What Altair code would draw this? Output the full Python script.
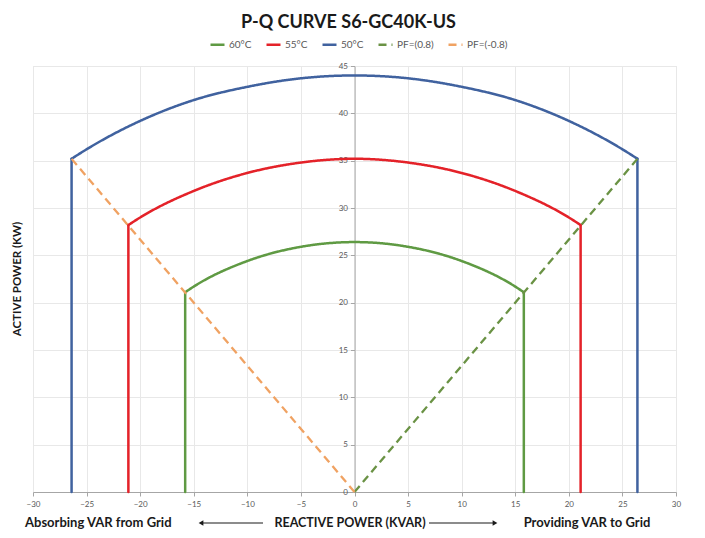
import altair as alt
import pandas as pd

# ---- data ----
series_names = ["60°C", "55°C", "50°C", "PF=(0.8)", "PF=(-0.8)"]
series_colors = ["#5f9a43", "#e42229", "#40629f", "#6a9244", "#f0a262"]

# arcs (reactive power x, active power y)
blue_x = [-26.4, -25, -20, -15, -10, -5, 0, 5, 10, 15, 20, 25, 26.4]
blue_y = [35.2, 36.2, 39.2, 41.4, 42.8, 43.7, 44.0, 43.7, 42.8, 41.4, 39.2, 36.2, 35.2]
red_x = [-21.1, -20, -15, -10, -5, 0, 5, 10, 15, 20, 21.1]
red_y = [28.2, 29.0, 31.8, 33.7, 34.8, 35.2, 34.8, 33.7, 31.8, 29.0, 28.2]
green_x = [-15.8, -15, -10, -5, 0, 5, 10, 15, 15.8]
green_y = [21.1, 21.7, 24.4, 25.9, 26.4, 25.9, 24.4, 21.7, 21.1]

# vertical limits (x position, top y)
blue_edge = [26.4, 35.2]
red_edge = [21.1, 28.2]
green_edge = [15.8, 21.1]

# power factor lines: end points from origin
pf_pos = [26.4, 35.2]
pf_neg = [-26.4, 35.2]

x_ticks = [-30, -25, -20, -15, -10, -5, 0, 5, 10, 15, 20, 25, 30]
y_ticks = [0, 5, 10, 15, 20, 25, 30, 35, 40, 45]

# ---- build table ----
rows = []
def add_arc(name, xs, ys):
    for i, (x, y) in enumerate(zip(xs, ys)):
        rows.append({"series": name, "seg": name + "-arc", "x": x, "y": y, "o": i})

def add_edges(name, edge):
    ex, ey = edge
    for side, sx in (("L", -ex), ("R", ex)):
        rows.append({"series": name, "seg": name + side, "x": sx, "y": 0, "o": 0})
        rows.append({"series": name, "seg": name + side, "x": sx, "y": ey, "o": 1})

add_arc("50°C", blue_x, blue_y)
add_arc("55°C", red_x, red_y)
add_arc("60°C", green_x, green_y)
add_edges("50°C", blue_edge)
add_edges("55°C", red_edge)
add_edges("60°C", green_edge)
solid = pd.DataFrame(rows)

dashed = pd.DataFrame([
    {"series": "PF=(0.8)", "seg": "pfp", "x": 0, "y": 0, "o": 0},
    {"series": "PF=(0.8)", "seg": "pfp", "x": pf_pos[0], "y": pf_pos[1], "o": 1},
    {"series": "PF=(-0.8)", "seg": "pfn", "x": 0, "y": 0, "o": 0},
    {"series": "PF=(-0.8)", "seg": "pfn", "x": pf_neg[0], "y": pf_neg[1], "o": 1},
])

W, H = 643, 426
FONT = "Lato"
GRAY = "#595959"

legend = alt.Legend(
    title=None, orient="none", legendX=176, legendY=-30, direction="horizontal",
    symbolType="stroke", symbolSize=196, symbolStrokeWidth=2.5,
    labelFont=FONT, labelFontSize=10, labelColor=GRAY, columnPadding=9,
    symbolOffset=0, labelOffset=3,
)

xenc = alt.X("x:Q", scale=alt.Scale(domain=[-30, 30], nice=False),
             axis=alt.Axis(values=x_ticks, title=None, grid=True, gridColor="#e8e8e8",
                           domainColor="#a6a6a6", tickColor="#a6a6a6", tickSize=4,
                           labelFont=FONT, labelFontSize=8, labelColor=GRAY, labelPadding=4,
                           labelFlush=False))
yenc = alt.Y("y:Q", scale=alt.Scale(domain=[0, 45], nice=False),
             axis=alt.Axis(values=y_ticks, title=None, grid=True, gridColor="#e8e8e8",
                           offset=-W / 2, domainColor="#a6a6a6", tickColor="#a6a6a6",
                           tickSize=4, labelFont=FONT, labelFontSize=8, labelColor=GRAY,
                           labelPadding=3, labelFlush=False))
color = alt.Color("series:N", scale=alt.Scale(domain=series_names, range=series_colors),
                  legend=legend)
dash = alt.StrokeDash("series:N", scale=alt.Scale(
    domain=series_names, range=[[1, 0], [1, 0], [1, 0], [8, 5], [8, 5]]), legend=legend)

solid_layer = alt.Chart(solid).mark_line(strokeWidth=2.5, strokeCap="round",
                                         interpolate="monotone").encode(
    x=xenc, y=yenc, color=color, strokeDash=dash, detail="seg:N", order="o:Q")
dash_layer = alt.Chart(dashed).mark_line(strokeWidth=2.3).encode(
    x=xenc, y=yenc, color=color, strokeDash=dash, detail="seg:N", order="o:Q")

one = pd.DataFrame({"k": [0]})
def label(text, x, y, align="center", size=13, angle=0):
    return alt.Chart(one).mark_text(text=text, font=FONT, fontWeight="bold", fontSize=size,
                                    color="#1a1a1a", align=align, baseline="middle",
                                    angle=angle).encode(x=alt.value(x), y=alt.value(y))

ytitle = label("ACTIVE POWER (KW)", -15, 213, size=11.5, angle=270)
xl = label("Absorbing VAR from Grid", -8, 457, align="left", size=13)
xc = label("REACTIVE POWER (KVAR)", 317, 457, size=12.5)
xr = label("Providing VAR to Grid", 554, 457, size=13)

arrow_l = alt.Chart(one).mark_rule(color="#1a1a1a", strokeWidth=1.2).encode(
    x=alt.value(170), x2=alt.value(230), y=alt.value(457))
head_l = alt.Chart(one).mark_point(shape="triangle-left", filled=True, color="#1a1a1a",
                                   size=30, opacity=1).encode(x=alt.value(168), y=alt.value(457))
arrow_r = alt.Chart(one).mark_rule(color="#1a1a1a", strokeWidth=1.2).encode(
    x=alt.value(396), x2=alt.value(460), y=alt.value(457))
head_r = alt.Chart(one).mark_point(shape="triangle-right", filled=True, color="#1a1a1a",
                                   size=30, opacity=1).encode(x=alt.value(462), y=alt.value(457))

chart = alt.layer(solid_layer, dash_layer, ytitle, xl, xc, xr, arrow_l, head_l, arrow_r,
                  head_r).properties(
    width=W, height=H,
    title=alt.TitleParams("P-Q CURVE S6-GC40K-US", font=FONT, fontSize=18, fontWeight="bold",
                          color="#1a1a1a", anchor="middle", frame="group", offset=9,
                          baseline="alphabetic", dx=-6, dy=19),
    padding={"left": 25, "top": 58, "right": 15, "bottom": 44},
    autosize=alt.AutoSizeParams(type="none"),
).configure_view(stroke=None).configure(background="white")

chart.save("out.html", embed_options={"renderer": "svg", "actions": False})
